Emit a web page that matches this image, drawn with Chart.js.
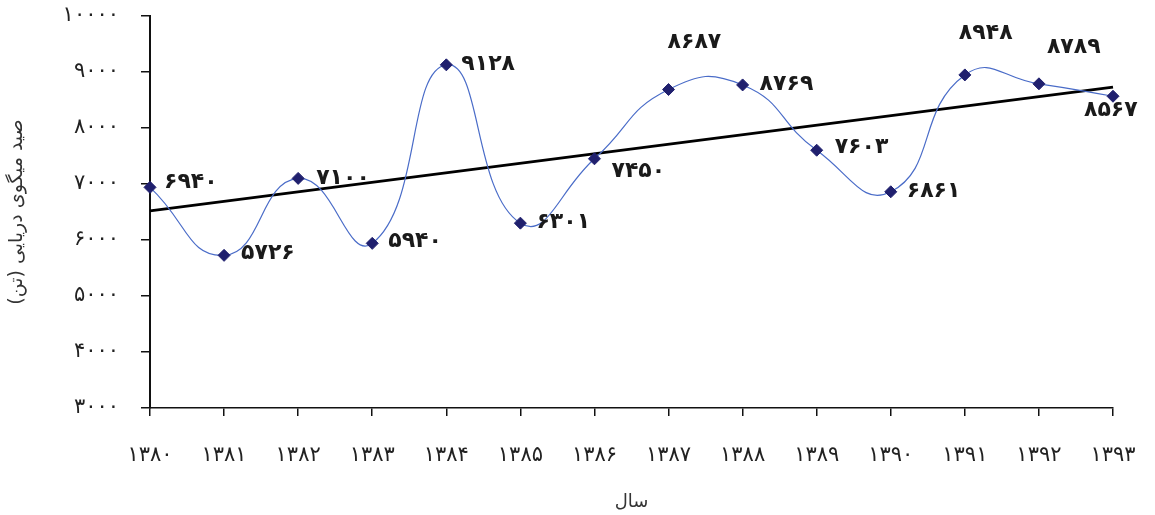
<!DOCTYPE html>
<html>
<head>
<meta charset="utf-8">
<script src="https://cdn.jsdelivr.net/npm/chart.js@4.4.1/dist/chart.umd.min.js"></script>
<style>
  html, body { margin: 0; padding: 0; background: #fff; }
  #wrap { width: 1155px; height: 515px; }
</style>
</head>
<body>
<div id="wrap"><canvas id="c" width="1155" height="515"></canvas></div>
<script>
// Shrimp catch per year (tonnes), years 1380–1393
const years = ['۱۳۸۰','۱۳۸۱','۱۳۸۲','۱۳۸۳','۱۳۸۴','۱۳۸۵','۱۳۸۶','۱۳۸۷','۱۳۸۸','۱۳۸۹','۱۳۹۰','۱۳۹۱','۱۳۹۲','۱۳۹۳'];
const catchTonnes = [6940, 5726, 7100, 5940, 9128, 6301, 7450, 8687, 8769, 7603, 6861, 8948, 8789, 8567];
// Linear trend line end values (first and last year)
const trendEnds = [6520, 8730];
const yTicks = [3000, 4000, 5000, 6000, 7000, 8000, 9000, 10000];

// Value-label placement: [dx to label's left edge, dy to label's middle]
const labelOffsets = [[14,-5],[17,-2],[18,0],[16,-2],[15,-1],[16,-1],[17,12],[-1,-47],[17,-1],[18,-3],[16,-1],[-6,-42],[8,-37],[-29,14]];

const faDigits = '۰۱۲۳۴۵۶۷۸۹';
const toFa = n => String(n).replace(/[0-9]/g, d => faDigits[+d]);
const RLM = '\u200F';
const FONT = '"DejaVu Sans", sans-serif';

const valueLabels = {
  id: 'valueLabels',
  afterDatasetsDraw(chart) {
    const meta = chart.getDatasetMeta(1);
    const ctx = chart.ctx;
    ctx.save();
    ctx.font = 'bold 22px ' + FONT;
    ctx.fillStyle = '#1a1a1a';
    ctx.textAlign = 'left';
    ctx.textBaseline = 'middle';
    meta.data.forEach((pt, i) => {
      const [dx, dy] = labelOffsets[i];
      ctx.fillText(toFa(catchTonnes[i]), pt.x + dx, pt.y + dy);
    });
    ctx.restore();
  }
};

new Chart(document.getElementById('c'), {
  type: 'line',
  data: {
    labels: years,
    datasets: [
      {
        label: 'trend',
        data: [{ x: years[0], y: trendEnds[0] }, { x: years[years.length - 1], y: trendEnds[1] }],
        borderColor: '#000',
        borderWidth: 3,
        pointRadius: 0,
        tension: 0,
        order: 2
      },
      {
        label: 'catch',
        data: catchTonnes,
        borderColor: '#4a6cc8',
        borderWidth: 1.2,
        tension: 0.5,
        cubicInterpolationMode: 'default',
        pointStyle: 'rectRot',
        pointRadius: 6,
        pointBackgroundColor: '#20206e',
        pointBorderColor: '#20206e',
        pointBorderWidth: 1,
        order: 1
      }
    ]
  },
  options: {
    responsive: false,
    animation: false,
    events: [],
    layout: { padding: { top: 16, right: 42, left: 0, bottom: 0 } },
    plugins: { legend: { display: false }, tooltip: { enabled: false } },
    scales: {
      x: {
        type: 'category',
        offset: false,
        afterFit(s) { s.height = 107; s.paddingLeft = 0; s.paddingRight = 0; },
        border: { display: true, color: '#111', width: 1.5 },
        grid: { display: true, drawOnChartArea: false, drawTicks: true, tickLength: 8, color: '#111', lineWidth: 1.5 },
        ticks: {
          color: '#222',
          padding: 27,
          maxRotation: 0,
          autoSkip: false,
          font: { family: FONT, size: 21 }
        },
        title: {
          display: true,
          text: 'سال',
          color: '#333',
          font: { family: FONT, size: 18 },
          padding: { top: 0, bottom: 2 }
        }
      },
      y: {
        min: 3000,
        max: 10000,
        afterFit(s) { s.width = 150; s.paddingTop = 0; s.paddingBottom = 0; },
        afterBuildTicks(s) { s.ticks = yTicks.map(v => ({ value: v })); },
        border: { display: true, color: '#111', width: 2 },
        grid: { display: true, drawOnChartArea: false, drawTicks: true, tickLength: 9, color: '#111', lineWidth: 1.5 },
        ticks: {
          color: '#222',
          padding: 22,
          font: { family: FONT, size: 21 },
          callback: v => toFa(v)
        },
        title: {
          display: true,
          text: RLM + 'صید میگوی دریایی (تن)' + RLM,
          color: '#333',
          font: { family: FONT, size: 19 },
          padding: { top: 6, bottom: 0 }
        }
      }
    }
  },
  plugins: [valueLabels]
});
</script>
</body>
</html>
